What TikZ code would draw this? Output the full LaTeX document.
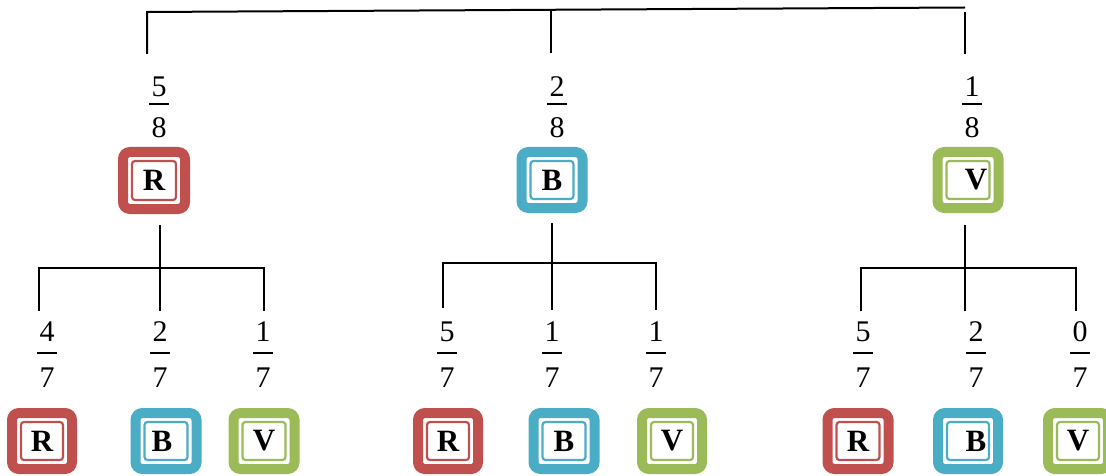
\documentclass[tikz,border=0pt]{standalone}
\usepackage{fontspec}
\setmainfont{Liberation Serif}
\definecolor{cR}{HTML}{C0504D}
\definecolor{cB}{HTML}{4BACC6}
\definecolor{cV}{HTML}{9BBB59}
\newcommand\lettfont{\bfseries\fontsize{31}{36}\selectfont}
\newcommand\numfont{\fontsize{30}{36}\selectfont}
\tikzset{
  numtext/.style={font=\numfont, anchor=base, inner sep=0pt},
  letter/.style={font=\lettfont, inner sep=0pt},
  conn/.style={line width=2pt, black},
  fbar/.style={line width=1.6pt, black},
  outerbox/.style={draw=#1, line width=10pt, rounded corners=7pt, inner sep=0pt},
  innerbox/.style={draw=#1, line width=2.2pt, rounded corners=3pt, inner sep=0pt},
}
% name, x, y, w, h, color, letter, letter x-offset
\newcommand\cbox[8]{%
  \node[outerbox=#6, minimum width=#4pt-10pt, minimum height=#5pt-10pt] (#1) at (#2,#3) {};
  \node[innerbox=#6, minimum width=#4pt-28pt, minimum height=#5pt-28pt] (#1-in) at (#1.center) {};
  \node[letter] (#1-t) at (#2+#8,#3) {#7};
}
% name, x, bar y, num, den, num gap
\newcommand\frc[6]{%
  \node[numtext] (#1-n) at (#2,#3-#6) {#4};
  \node[numtext] (#1-d) at (#2,#3+34) {#5};
  \coordinate (#1-a) at (#2-10,#3);
  \coordinate (#1-b) at (#2+10,#3);
  \draw[fbar] (#1-a) -- (#1-b);
}
\begin{document}
\begin{tikzpicture}[x=1pt,y=-1pt]
\useasboundingbox (0,0) rectangle (1106,476);
% top connectors
\coordinate (tL) at (147,12);
\coordinate (tM) at (551,10);
\coordinate (tR) at (965,7.5);
\coordinate (tLb) at (147,54);
\coordinate (tMb) at (551,53);
\coordinate (tRb) at (965,54);
\draw[conn] (tLb) -- (tL) -- (tR);
\draw[conn] (tM) -- (tMb);
\coordinate (tRt) at (965,12);
\draw[conn] (tRt) -- (tRb);
% level 1
\frc{f1}{159}{104}{5}{8}{7}
\frc{f2}{557}{104}{2}{8}{7}
\frc{f3}{972}{104}{1}{8}{7}
\cbox{R1}{154}{180.5}{72}{67}{cR}{R}{0}
\cbox{B1}{552}{180}{71}{66}{cB}{B}{0}
\cbox{V1}{968}{180}{71}{66}{cV}{V}{8}
% left subtree
\coordinate (aTop) at (160,225);
\coordinate (aJ) at (160,268);
\coordinate (aL) at (39,268);
\coordinate (aR) at (264,268);
\coordinate (aLb) at (39,311);
\coordinate (aMb) at (160,311);
\coordinate (aRb) at (264,311);
\draw[conn] (aTop) -- (aMb);
\draw[conn] (aLb) -- (aL) -- (aR) -- (aRb);
% middle subtree
\coordinate (bTop) at (552,223);
\coordinate (bJ) at (552,263);
\coordinate (bL) at (443,263);
\coordinate (bR) at (656,263);
\coordinate (bLb) at (443,308);
\coordinate (bMb) at (552,310);
\coordinate (bRb) at (656,310);
\draw[conn] (bTop) -- (bMb);
\draw[conn] (bLb) -- (bL) -- (bR) -- (bRb);
% right subtree
\coordinate (cTop) at (965,225);
\coordinate (cJ) at (965,268);
\coordinate (cL) at (861,268);
\coordinate (cR) at (1076,268);
\coordinate (cLb) at (861,311);
\coordinate (cMb) at (965,311);
\coordinate (cRb) at (1076,311);
\draw[conn] (cTop) -- (cMb);
\draw[conn] (cLb) -- (cL) -- (cR) -- (cRb);
% level 2 fractions
\frc{g1}{47}{353}{4}{7}{12}
\frc{g2}{160}{353}{2}{7}{12}
\frc{g3}{263}{353}{1}{7}{12}
\frc{g4}{447}{353}{5}{7}{12}
\frc{g5}{552}{353}{1}{7}{12}
\frc{g6}{656}{353}{1}{7}{12}
\frc{g7}{863}{353}{5}{7}{12}
\frc{g8}{976}{353}{2}{7}{12}
\frc{g9}{1080}{353}{0}{7}{12}
% level 2 boxes
\cbox{R2}{42}{441}{70}{66}{cR}{R}{0}
\cbox{B2}{166}{441}{71}{66}{cB}{B}{-4}
\cbox{V2}{264}{441}{71}{66}{cV}{V}{0}
\cbox{R3}{448}{441}{70}{66}{cR}{R}{0}
\cbox{B3}{564}{441}{71}{66}{cB}{B}{0}
\cbox{V3}{672}{441}{70}{66}{cV}{V}{0}
\cbox{R4}{858}{441}{71}{66}{cR}{R}{0}
\cbox{B4}{968}{441}{70}{66}{cB}{B}{8}
\cbox{V4}{1078}{441}{70}{66}{cV}{V}{0}
\end{tikzpicture}
\end{document}
